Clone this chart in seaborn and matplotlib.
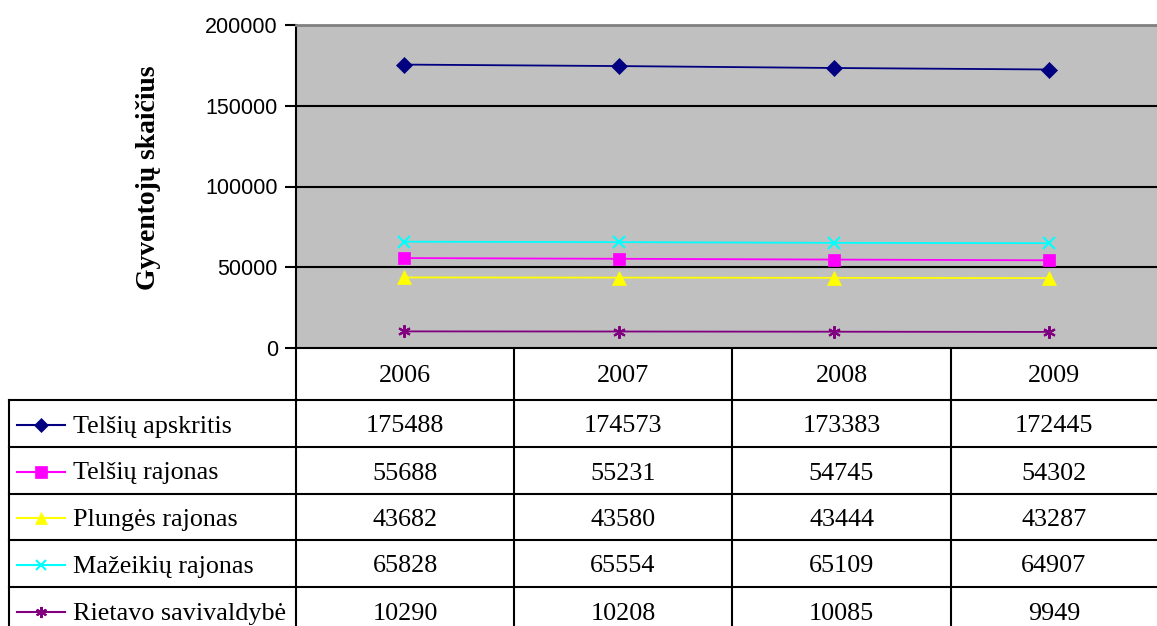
import pandas as pd
import seaborn as sns
import matplotlib.pyplot as plt

# data
years = ["2006", "2007", "2008", "2009"]
series_names = ["Telšių apskritis", "Telšių rajonas", "Plungės rajonas",
                "Mažeikių rajonas", "Rietavo savivaldybė"]
telsiu_apskritis = [175488, 174573, 173383, 172445]
telsiu_rajonas = [55688, 55231, 54745, 54302]
plunges_rajonas = [43682, 43580, 43444, 43287]
mazeikiu_rajonas = [65828, 65554, 65109, 64907]
rietavo_savivaldybe = [10290, 10208, 10085, 9949]
y_ticks = [0, 50000, 100000, 150000, 200000]

values = [telsiu_apskritis, telsiu_rajonas, plunges_rajonas,
          mazeikiu_rajonas, rietavo_savivaldybe]
colors = ["#000080", "#FF00FF", "#FFFF00", "#00FFFF", "#800080"]
markers = ["D", "s", "^", "x", (6, 2, 0)]
msizes = [8, 9, 10, 8, 9]

rows = []
for name, vals in zip(series_names, values):
    for i, v in enumerate(vals):
        rows.append({"series": name, "pos": i, "value": v})
df = pd.DataFrame(rows)

W, H = 1157, 626
fig = plt.figure(figsize=(W / 100, H / 100), dpi=100)

# pixel layout
x0, x1 = 296, 1157
ytop, ybot = 25, 348
ax = fig.add_axes([x0 / W, 1 - ybot / H, (x1 - x0) / W, (ybot - ytop) / H])
ax.set_facecolor("#C0C0C0")

for name, col, mk, ms in zip(series_names, colors, markers, msizes):
    sub = df[df["series"] == name]
    sns.lineplot(data=sub, x="pos", y="value", ax=ax, color=col, lw=1.3,
                 marker=mk, markersize=ms, markeredgecolor=col,
                 markeredgewidth=1.5 if mk in ("x", (6, 2, 0)) else 0.5,
                 legend=False)

ax.set_xlim(-0.5, len(years) - 0.5)
ax.set_ylim(0, 200000)
ax.set_yticks(y_ticks)
ax.set_yticklabels([str(t) for t in y_ticks], fontfamily="Liberation Sans", fontsize=15.5)
ax.set_xticks([])
ax.set_xlabel("")
ax.set_ylabel("Gyventojų skaičius", fontfamily="Liberation Serif", fontsize=19.9,
              fontweight="bold")
ax.yaxis.set_label_coords(-0.157, 0.526)
for yv in y_ticks[1:-1]:
    ax.axhline(yv, color="black", lw=1.5, zorder=0.5)
ax.tick_params(axis="y", length=8, width=1.5, color="black", pad=5)
for s in ["left", "bottom"]:
    ax.spines[s].set_color("black")
    ax.spines[s].set_linewidth(1.5)
ax.spines["top"].set_color("#808080")
ax.spines["top"].set_linewidth(2)
ax.spines["right"].set_visible(False)

# data table below the chart, drawn in pixel coordinates
tab = fig.add_axes([0, 0, 1, 1], zorder=-1)
tab.set_xlim(0, W)
tab.set_ylim(H, 0)
tab.axis("off")

col_edges = [296, 514, 732, 951, 1157]
row_edges = [348, 400, 447, 494, 540, 587, 640]
lw = 1.5
for cx in col_edges[:-1]:
    tab.plot([cx, cx], [348, H], color="black", lw=lw)
tab.plot([9, 9], [400, H], color="black", lw=lw)
for ry in row_edges[1:-1]:
    tab.plot([9, W], [ry, ry], color="black", lw=lw)

serif = "Liberation Serif"
fs = 18.8
for j, yr in enumerate(years):
    cx = (col_edges[j] + col_edges[j + 1]) / 2
    tab.text(cx, (row_edges[0] + row_edges[1]) / 2 + 2, yr, ha="center", va="center",
             fontfamily=serif, fontsize=fs)

for i, (name, vals) in enumerate(zip(series_names, values)):
    cy = (row_edges[i + 1] + row_edges[i + 2]) / 2 + 1
    if i == len(series_names) - 1:
        cy = 612
    tab.plot([17, 65], [cy, cy], color=colors[i], lw=1.5)
    tab.plot([41], [cy], marker=markers[i], color=colors[i], markersize=msizes[i] - 1,
             markeredgecolor=colors[i], markeredgewidth=1.5 if i >= 3 else 0.5)
    tab.text(73, cy + 2, name, ha="left", va="center", fontfamily=serif, fontsize=fs)
    for j, v in enumerate(vals):
        cx = (col_edges[j] + col_edges[j + 1]) / 2
        tab.text(cx, cy + 2, str(v), ha="center", va="center", fontfamily=serif, fontsize=fs)

fig.savefig("out.png", dpi=100)
